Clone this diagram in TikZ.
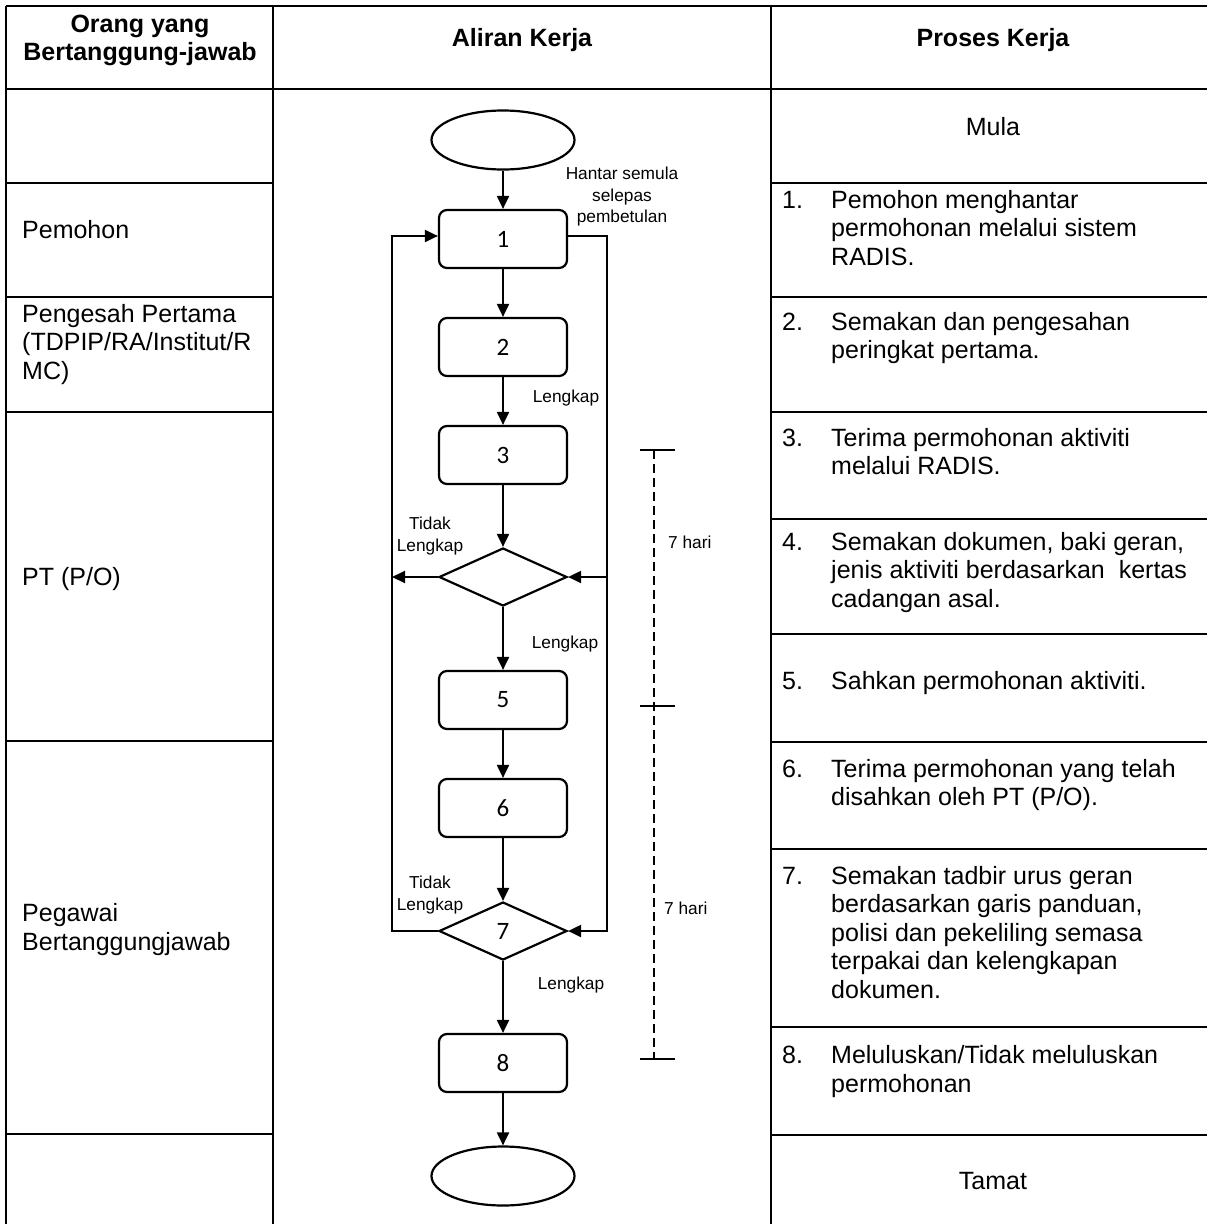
\documentclass[tikz,border=0pt]{standalone}
\usepackage{fontspec}
\setmainfont{Liberation Sans}
\newfontfamily\boxfont{Carlito}
\usetikzlibrary{shapes.geometric,arrows.meta}

\begin{document}
\begin{tikzpicture}[x=1pt, y=-1pt,
  >={Triangle[length=13pt,width=12pt]},
  stepbox/.style={draw, line width=2.2pt, rounded corners=8pt, minimum width=128pt, minimum height=58pt, inner sep=0pt, font=\boxfont\fontsize{25}{30}\selectfont},
  decision/.style={draw, diamond, line width=2.2pt, minimum width=128pt, minimum height=58pt, inner sep=0pt, font=\boxfont\fontsize{25}{30}\selectfont},
  terminal/.style={draw, ellipse, line width=2.2pt, minimum width=143pt, minimum height=59pt},
  flow/.style={line width=2pt, ->},
  small/.style={font=\fontsize{17.3}{21.5}\selectfont, align=center, inner sep=0pt},
  cell/.style={font=\fontsize{25}{28.5}\selectfont, anchor=base west, align=left, inner sep=0pt},
  head/.style={font=\bfseries\fontsize{25}{28.5}\selectfont, anchor=base, align=center, inner sep=0pt},
  grid/.style={line width=1.3pt},
  heavy/.style={line width=2.6pt}]
\useasboundingbox (0,0) rectangle (1207,1224);

\draw[heavy] (6,6) -- (1207,6);
\draw[grid] (6,6) -- (6,1224);
\draw[heavy] (6,89) -- (1207,89);
\draw[grid] (273,6) -- (273,1224);
\draw[grid] (771,6) -- (771,1224);
\draw[grid] (6,183) -- (273,183);
\draw[grid] (6,297) -- (273,297);
\draw[grid] (6,412) -- (273,412);
\draw[grid] (6,741) -- (273,741);
\draw[heavy] (6,1134) -- (273,1134);
\draw[grid] (771,183) -- (1207,183);
\draw[grid] (771,297) -- (1207,297);
\draw[grid] (771,412) -- (1207,412);
\draw[grid] (771,519) -- (1207,519);
\draw[grid] (771,634) -- (1207,634);
\draw[grid] (771,742) -- (1207,742);
\draw[grid] (771,849) -- (1207,849);
\draw[grid] (771,1027) -- (1207,1027);
\draw[heavy] (771,1135) -- (1207,1135);

\node[head] (h1) at (140,60.5) {Orang yang\\Bertanggung-jawab};
\node[head] (h2) at (522,46) {Aliran Kerja};
\node[head] (h3) at (993,46) {Proses Kerja};

\node[cell] (r1) at (22,238) {Pemohon};
\node[cell] (r2) at (22,379) {Pengesah Pertama\\(TDPIP/RA/Institut/R\\MC)};
\node[cell] (r3) at (22,585) {PT (P/O)};
\node[cell] (r4) at (22,950) {Pegawai\\Bertanggungjawab};

\node[cell, anchor=base] (mula) at (993,135) {Mula};
\node[cell] (n1) at (782,208) {1.};
\node[cell] (p1) at (831,265) {Pemohon menghantar\\permohonan melalui sistem\\RADIS.};
\node[cell] (n2) at (782,330) {2.};
\node[cell] (p2) at (831,358.5) {Semakan dan pengesahan\\peringkat pertama.};
\node[cell] (n3) at (782,446) {3.};
\node[cell] (p3) at (831,474.5) {Terima permohonan aktiviti\\melalui RADIS.};
\node[cell] (n4) at (782,550) {4.};
\node[cell] (p4) at (831,607) {Semakan dokumen, baki geran,\\jenis aktiviti berdasarkan\ \ kertas\\cadangan asal.};
\node[cell] (n5) at (782,689) {5.};
\node[cell] (p5) at (831,689) {Sahkan permohonan aktiviti.};
\node[cell] (n6) at (782,777) {6.};
\node[cell] (p6) at (831,805.5) {Terima permohonan yang telah\\disahkan oleh PT (P/O).};
\node[cell] (n7) at (782,884) {7.};
\node[cell] (p7) at (831,998) {Semakan tadbir urus geran\\berdasarkan garis panduan,\\polisi dan pekeliling semasa\\terpakai dan kelengkapan\\dokumen.};
\node[cell] (n8) at (782,1063) {8.};
\node[cell] (p8) at (831,1092) {Meluluskan/Tidak meluluskan\\permohonan};
\node[cell, anchor=base] (tamat) at (993,1189) {Tamat};

\node[terminal] (start) at (503,140) {};
\node[stepbox] (b1) at (503,239) {1};
\node[stepbox] (b2) at (503,347) {2};
\node[stepbox] (b3) at (503,455) {3};
\node[decision] (d4) at (503,577) {};
\node[stepbox] (b5) at (503,700) {5};
\node[stepbox] (b6) at (503,808) {6};
\node[decision] (d7) at (503,931) {7};
\node[stepbox] (b8) at (503,1063) {8};
\node[terminal] (end) at (503,1176) {};

\draw[flow] (start) -- (b1);
\draw[flow] (b1) -- (b2);
\draw[flow] (b2) -- (b3);
\draw[flow] (b3) -- (d4);
\draw[flow] (d4) -- (b5);
\draw[flow] (b5) -- (b6);
\draw[flow] (b6) -- (d7);
\draw[flow] (d7) -- (b8);
\draw[flow] (b8) -- (end);

\coordinate (rtop) at (607,236);
\coordinate (ltop) at (392,236);
\draw[flow] (b1.east |- rtop) -- (rtop) |- (d7.east);
\draw[flow] (rtop |- d4.east) -- (d4.east);
\draw[flow] (d7.west) -| (ltop) -- (b1.west |- ltop);
\draw[flow] (d4.west) -- (ltop |- d4.west);

\node[small] (hantar) at (622,197) {Hantar semula\\selepas\\pembetulan};
\node[small] (lk1) at (566,398) {Lengkap};
\node[small] (lk2) at (565,644) {Lengkap};
\node[small] (lk3) at (571,985) {Lengkap};
\node[small] (td1) at (430,536) {Tidak\\Lengkap};
\node[small] (td2) at (430,895) {Tidak\\Lengkap};
\node[small, anchor=west] (hr1) at (668,542) {7 hari};
\node[small, anchor=west] (hr2) at (664,908) {7 hari};

\coordinate (t1) at (654,450);
\coordinate (t2) at (654,706);
\coordinate (t3) at (654,1059);
\draw[line width=2pt, dash pattern=on 9pt off 5pt] (t1) -- (t3);
\draw[line width=2pt] ([xshift=-14pt]t1) -- ([xshift=21pt]t1);
\draw[line width=2pt] ([xshift=-14pt]t2) -- ([xshift=21pt]t2);
\draw[line width=2pt] ([xshift=-14pt]t3) -- ([xshift=21pt]t3);
\end{tikzpicture}
\end{document}
